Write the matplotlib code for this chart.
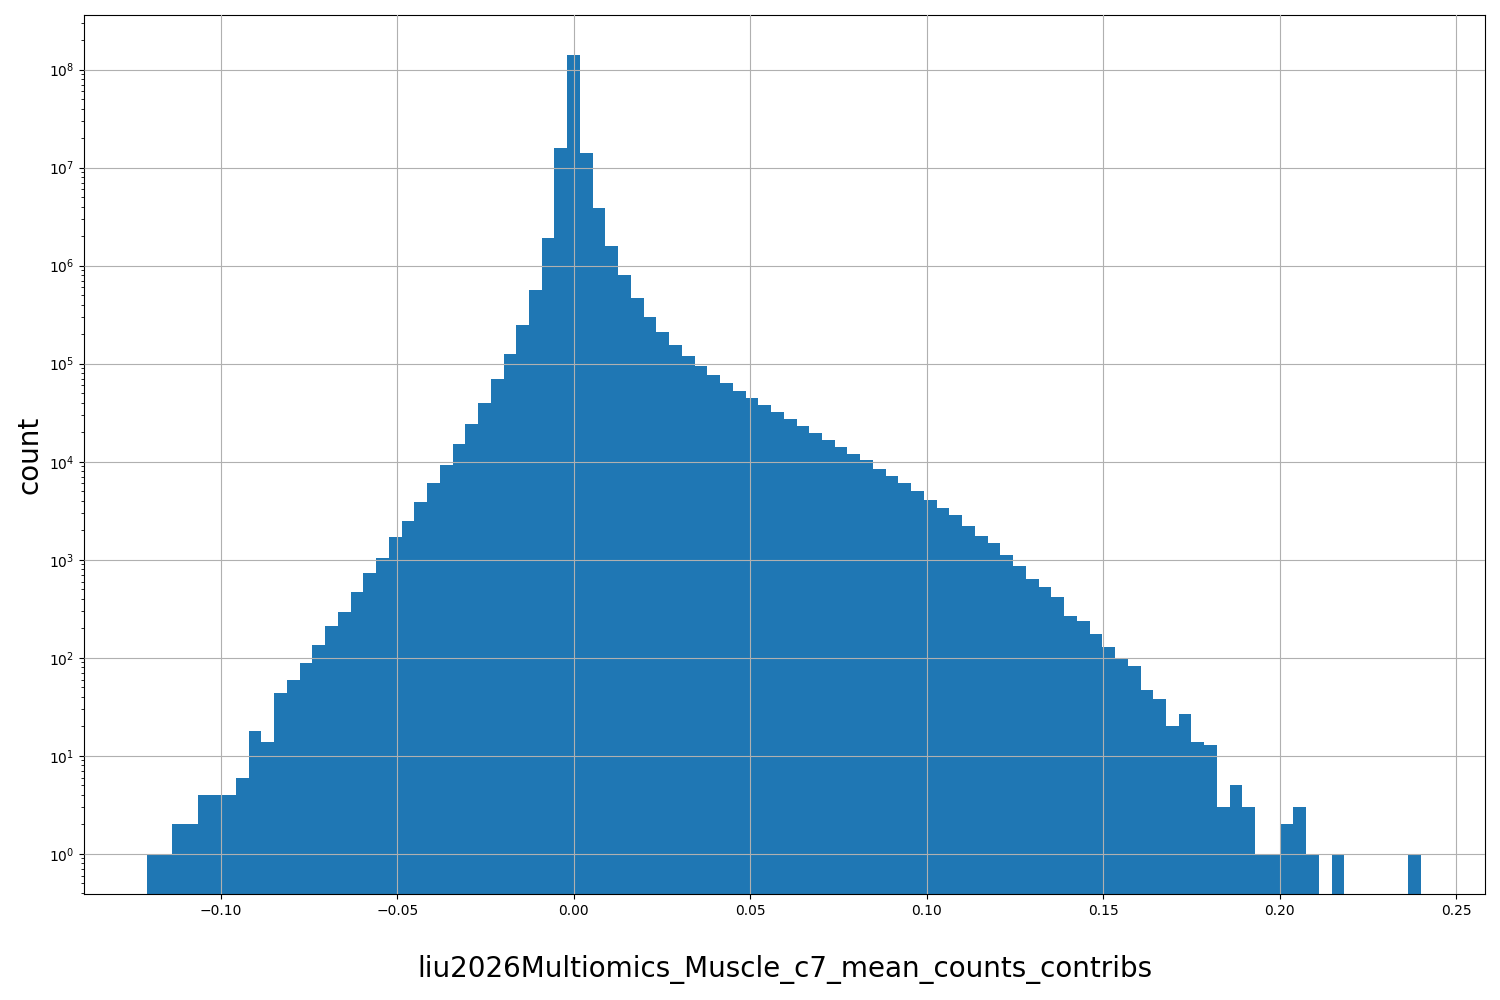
import numpy as np
import matplotlib

matplotlib.use("Agg")
import matplotlib.pyplot as plt

# histogram range and per-bin counts (100 bins)
x_min, x_max = -0.121, 0.240
counts = [
    1, 1, 2, 2, 4, 4, 4, 6, 18, 14,
    44, 60, 88, 135, 210, 290, 470, 730, 1050, 1700,
    2500, 3900, 6100, 9300, 15000, 24000, 40000, 70000, 125000, 250000,
    570000, 1.9e6, 1.6e7, 1.4e8, 1.4e7, 3.9e6, 1.6e6, 8e5, 4.7e5, 3e5,
    2.1e5, 1.55e5, 1.2e5, 9.5e4, 7.6e4, 6.3e4, 5.3e4, 4.5e4, 3.8e4, 3.2e4,
    2.75e4, 2.3e4, 1.95e4, 1.65e4, 1.4e4, 1.2e4, 1.03e4, 8500, 7200, 6000,
    5000, 4100, 3400, 2850, 2200, 1750, 1500, 1120, 870, 640,
    530, 420, 270, 240, 175, 130, 100, 82, 47, 38,
    20, 27, 14, 13, 3, 5, 3, 1, 1, 2,
    3, 1, 0, 1, 0, 0, 0, 0, 0, 1,
]
xlabel = "liu2026Multiomics_Muscle_c7_mean_counts_contribs"

edges = np.linspace(x_min, x_max, len(counts) + 1)
centers = (edges[:-1] + edges[1:]) / 2

fig, ax = plt.subplots(figsize=(15, 10), dpi=100)
ax.hist(centers, bins=edges, weights=counts, log=True, color="#1f77b4")
ax.set_ylim(0.39, 3.6e8)
ax.set_xlim(-0.1388, 0.2582)
ax.grid(True)
ax.set_axisbelow(False)
ax.set_xlabel(xlabel, fontsize=20, labelpad=27)
ax.set_ylabel("count", fontsize=20)
fig.subplots_adjust(left=0.056, right=0.99, top=0.985, bottom=0.106)
fig.savefig("out.png")
